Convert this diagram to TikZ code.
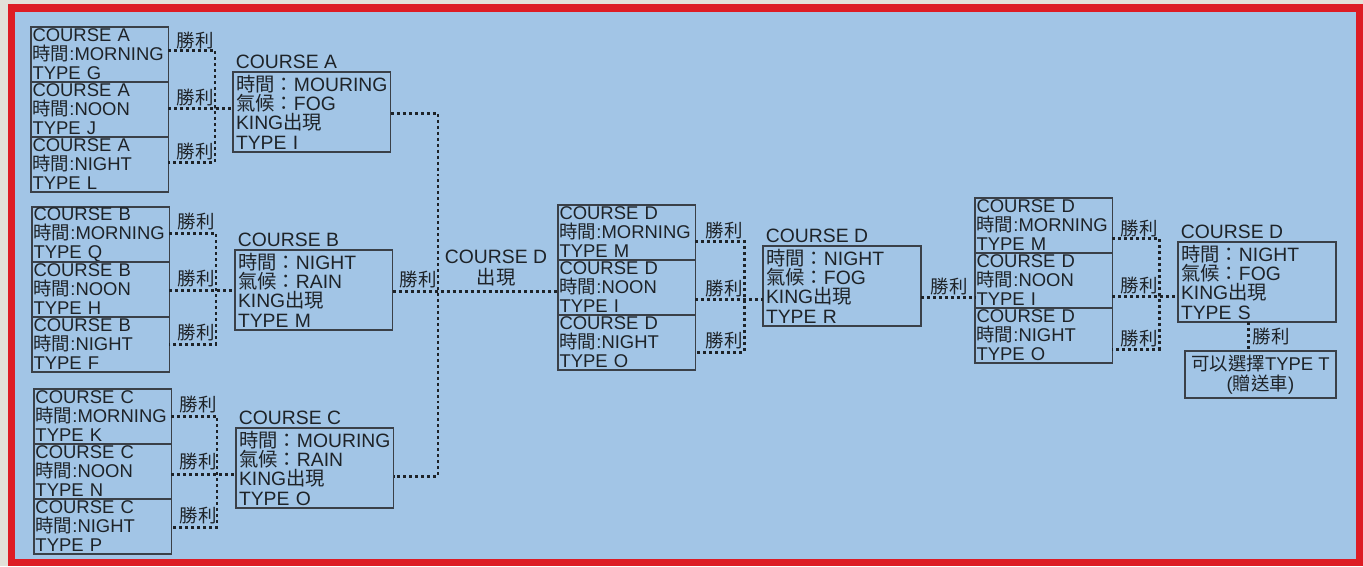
\documentclass[tikz,border=0pt]{standalone}
\usepackage{fontspec}
\setmainfont{Liberation Sans}
\newfontfamily\zhfont{Noto Sans CJK TC}
\newcommand{\zh}[1]{{\zhfont #1}}
\usetikzlibrary{positioning}
\definecolor{paper}{HTML}{A2C5E6}
\definecolor{framered}{HTML}{DD1C24}
\definecolor{margin}{HTML}{E2E0D8}
\definecolor{ink}{HTML}{1E2328}
\definecolor{boxline}{HTML}{3A4048}

\begin{document}
\begin{tikzpicture}[x=0.02cm,y=-0.02cm,
  slot/.style={draw=boxline,line width=0.6pt,text=ink,font=\fontsize{10.5}{10.8}\selectfont,
    align=left,text width=2.69cm,minimum width=2.75cm,minimum height=1.1cm,
    inner xsep=0.03cm,inner ysep=0pt,outer sep=0pt},
  stage/.style={draw=boxline,line width=0.6pt,text=ink,font=\fontsize{11}{11}\selectfont,
    align=left,text width=3.04cm,minimum width=3.16cm,minimum height=1.6cm,
    inner xsep=0.06cm,inner ysep=0pt,outer sep=0pt},
  title/.style={text=ink,font=\fontsize{11}{11}\selectfont,inner sep=1.5pt,anchor=south west},
  winlbl/.style={text=ink,font=\zhfont\fontsize{10.5}{10.5}\selectfont,inner sep=0pt},
  win/.style={draw=ink,line width=1.7pt,dash pattern=on 1.7pt off 1.7pt}
]
% paper and frame
\fill[margin] (0,0) rectangle (1363,566);
\fill[framered] (8,4) rectangle (1363,566);
\fill[paper] (15,12) rectangle (1356,559);
\useasboundingbox (0,0) rectangle (1363,566);

% course A
\node[slot,anchor=north west] (a1) at (31,27) {COURSE A\\\zh{時間}:MORNING\\TYPE G};
\node[slot,below=0pt of a1] (a2) {COURSE A\\\zh{時間}:NOON\\TYPE J};
\node[slot,below=0pt of a2] (a3) {COURSE A\\\zh{時間}:NIGHT\\TYPE L};
\node[stage,anchor=north west] (ka) at (233,72) {\zh{時間：}MOURING\\\zh{氣候：}FOG\\KING\zh{出現}\\TYPE I};
\node[title] (ta) at (ka.north west) {COURSE A};
\coordinate (ja) at (215,108);
\draw[win] (a1.east |- 0,50) -| (ja) |- (a3.east |- 0,162);
\draw[win] (a2.east |- ja) -- (ka.west |- ja);
\node[winlbl] (wa1) at (195,41) {勝利};
\node[winlbl] (wa2) at (195,98) {勝利};
\node[winlbl] (wa3) at (195,152) {勝利};

% course B
\node[slot,anchor=north west] (b1) at (32,207) {COURSE B\\\zh{時間}:MORNING\\TYPE Q};
\node[slot,below=0pt of b1] (b2) {COURSE B\\\zh{時間}:NOON\\TYPE H};
\node[slot,below=0pt of b2] (b3) {COURSE B\\\zh{時間}:NIGHT\\TYPE F};
\node[stage,anchor=north west] (kb) at (235,250) {\zh{時間：}NIGHT\\\zh{氣候：}RAIN\\KING\zh{出現}\\TYPE M};
\node[title] (tb) at (kb.north west) {COURSE B};
\coordinate (jb) at (216,290);
\draw[win] (b1.east |- 0,233) -| (jb) |- (b3.east |- 0,344);
\draw[win] (b2.east |- jb) -- (kb.west |- jb);
\node[winlbl] (wb1) at (196,222) {勝利};
\node[winlbl] (wb2) at (196,279) {勝利};
\node[winlbl] (wb3) at (196,333) {勝利};

% course C
\node[slot,anchor=north west] (c1) at (34,389) {COURSE C\\\zh{時間}:MORNING\\TYPE K};
\node[slot,below=0pt of c1] (c2) {COURSE C\\\zh{時間}:NOON\\TYPE N};
\node[slot,below=0pt of c2] (c3) {COURSE C\\\zh{時間}:NIGHT\\TYPE P};
\node[stage,anchor=north west] (kc) at (236,428) {\zh{時間：}MOURING\\\zh{氣候：}RAIN\\KING\zh{出現}\\TYPE O};
\node[title] (tc) at (kc.north west) {COURSE C};
\coordinate (jc) at (217,474);
\draw[win] (c1.east |- 0,416) -| (jc) |- (c3.east |- 0,527);
\draw[win] (c2.east |- jc) -- (kc.west |- jc);
\node[winlbl] (wc1) at (198,405) {勝利};
\node[winlbl] (wc2) at (198,462) {勝利};
\node[winlbl] (wc3) at (198,516) {勝利};

% course D, first round
\node[slot,anchor=north west] (d1) at (558,205) {COURSE D\\\zh{時間}:MORNING\\TYPE M};
\node[slot,below=0pt of d1] (d2) {COURSE D\\\zh{時間}:NOON\\TYPE I};
\node[slot,below=0pt of d2] (d3) {COURSE D\\\zh{時間}:NIGHT\\TYPE O};
\coordinate (jm) at (438,291);
\draw[win] (ka.east |- 0,113) -| (jm) |- (kc.east |- 0,476);
\draw[win] (kb.east |- jm) -- (d2.west |- jm);
\node[winlbl] (wm) at (418,280) {勝利};
\node[text=ink,font=\fontsize{11}{11.5}\selectfont,align=center,inner sep=0pt] (dnote) at (496,268) {COURSE D\\\zh{出現}};
\node[stage,anchor=north west] (kr) at (763,246) {\zh{時間：}NIGHT\\\zh{氣候：}FOG\\KING\zh{出現}\\TYPE R};
\node[title] (tr) at (kr.north west) {COURSE D};
\coordinate (jd) at (744,299);
\draw[win] (d1.east |- 0,241) -| (jd) |- (d3.east |- 0,352);
\draw[win] (d2.east |- jd) -- (kr.west |- jd);
\node[winlbl] (wd1) at (724,231) {勝利};
\node[winlbl] (wd2) at (724,289) {勝利};
\node[winlbl] (wd3) at (724,341) {勝利};

% course D, second round
\node[slot,anchor=north west] (e1) at (975,198) {COURSE D\\\zh{時間}:MORNING\\TYPE M};
\node[slot,below=0pt of e1] (e2) {COURSE D\\\zh{時間}:NOON\\TYPE I};
\node[slot,below=0pt of e2] (e3) {COURSE D\\\zh{時間}:NIGHT\\TYPE O};
\draw[win] (kr.east |- 0,297) -- (e2.west |- 0,297);
\node[winlbl] (wr) at (949,287) {勝利};
\node[stage,anchor=north west] (ks) at (1178,242) {\zh{時間：}NIGHT\\\zh{氣候：}FOG\\KING\zh{出現}\\TYPE S};
\node[title] (ts) at (ks.north west) {COURSE D};
\coordinate (je) at (1159,296);
\draw[win] (e1.east |- 0,238) -| (je) |- (e3.east |- 0,349);
\draw[win] (e2.east |- je) -- (ks.west |- je);
\node[winlbl] (we1) at (1139,229) {勝利};
\node[winlbl] (we2) at (1139,286) {勝利};
\node[winlbl] (we3) at (1139,339) {勝利};

% prize
\node[draw=boxline,line width=0.6pt,text=ink,font=\fontsize{10.5}{11.5}\selectfont,align=center,
  minimum width=3.02cm,minimum height=0.94cm,inner sep=0pt,outer sep=0pt,
  below=0.58cm of ks,xshift=0.07cm] (prize) {\zh{可以選擇}TYPE T\\(\zh{贈送車})};
\draw[win] (ks.south -| 1248,0) -- (prize.north -| 1248,0);
\node[winlbl] (wt) at (1271,337) {勝利};
\end{tikzpicture}
\end{document}
